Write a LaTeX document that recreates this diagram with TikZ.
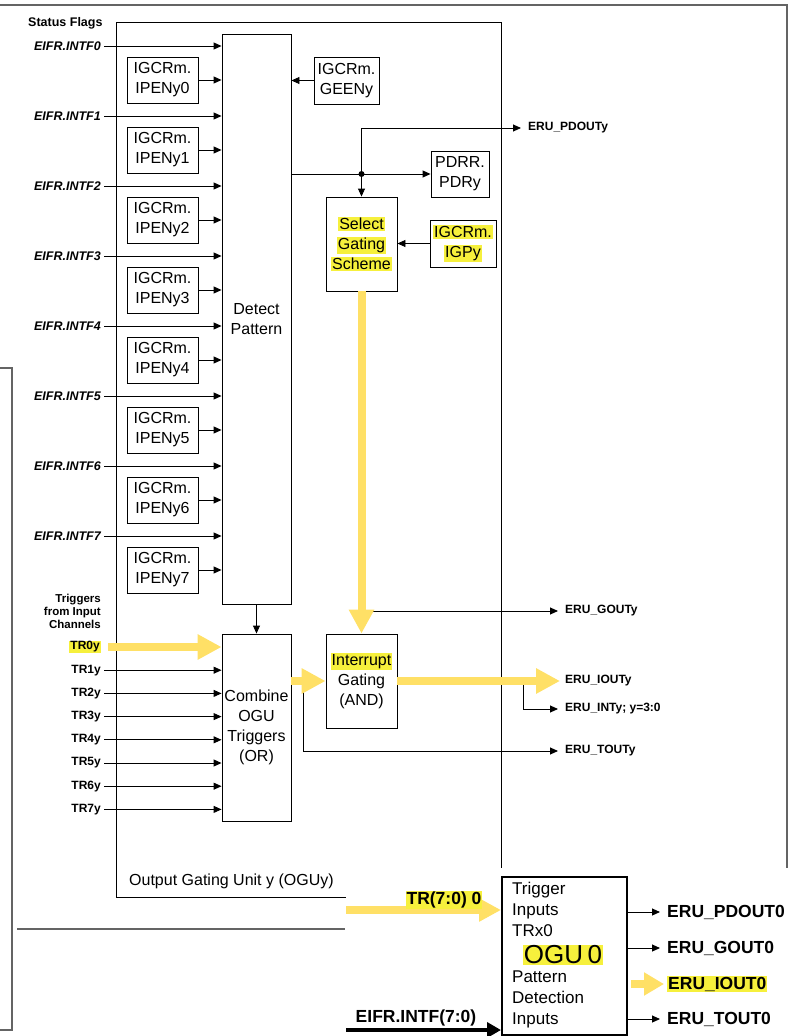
\documentclass[tikz,border=0pt]{standalone}
\usepackage{fontspec}
\setmainfont{Liberation Sans}
\usepackage{tikz}
\usetikzlibrary{shapes,arrows.meta,positioning,calc}
\definecolor{hly}{RGB}{246,240,60}
\definecolor{ayel}{RGB}{255,224,102}
\definecolor{framegray}{RGB}{100,100,100}
\newcommand{\hlt}[1]{{\setlength{\fboxsep}{1pt}\colorbox{hly}{#1}}}

\begin{document}
\begin{tikzpicture}[x=1pt, y=-1pt, >={Triangle[length=8pt,width=7pt]},
        every node/.style={inner sep=0pt},
        block/.style={rectangle, draw, line width=0.9pt, align=center, font=\fontsize{16}{20}\selectfont},
        flag/.style={anchor=east, inner xsep=3pt, font=\fontsize{12.5}{14}\selectfont\bfseries\itshape},
        trig/.style={anchor=east, inner xsep=3pt, font=\fontsize{12}{14}\selectfont\bfseries},
        outlbl/.style={anchor=west, inner xsep=7pt, font=\fontsize{12}{14}\selectfont\bfseries},
        bigout/.style={anchor=west, inner xsep=7pt, font=\fontsize{17.5}{20}\selectfont\bfseries},
        insettxt/.style={align=left, font=\fontsize{17}{20.8}\selectfont},
        sig/.style={->, line width=0.9pt},
        yarrow/.style={ayel, line width=8pt, -{Triangle[length=24pt,width=24pt]}},
        frameline/.style={framegray, line width=1.3pt}]
        \useasboundingbox (0,0) rectangle (811,1036);

        % surrounding frame
        \draw[frameline] (0,5) -- (787,5) -- (787,868);
        \draw[frameline] (0,368) -- (12,368) -- (12,1030) -- (0,1030);
        \draw[frameline] (17,929) -- (345,929);

        % output gating unit
        \node[draw, line width=0.9pt, minimum width=385pt, minimum height=875pt] (ogu) at (308.5,459.5) {};
        \node[anchor=base west, font=\fontsize{16}{18}\selectfont] (ogulbl) at (129,885) {Output Gating Unit y (OGUy)};
        \node[anchor=base west, font=\fontsize{12.5}{14}\selectfont\bfseries] (status) at (28,26) {Status Flags};

        \node[block, minimum width=69pt, minimum height=570pt] (detect) at (256.5,319) {Detect\\Pattern};
        \node[block, minimum width=69pt, minimum height=187pt] (combine) at (256.5,727.5) {Combine\\OGU\\Triggers\\(OR)};

        \foreach \k in {0,...,7} {
            \node[block, minimum width=71pt, minimum height=46pt] (ipen\k) at (162.5,{80+70*\k}) {IGCRm.\\IPENy\k};
            \node[flag] (intf\k) at (104,{46+70*\k}) {EIFR.INTF\k};
            \draw[sig] (intf\k.east) -- (intf\k.east -| detect.west);
            \draw[sig] (ipen\k.east) -- (ipen\k.east -| detect.west);
        }

        \node[anchor=east, align=right, font=\fontsize{11.5}{13}\selectfont\bfseries] (trigin) at (101,611) {Triggers\\from Input\\Channels};
        \node[trig] (tr0) at (104,647) {\hlt{TR0y}};
        \foreach \k in {1,...,7} {
            \node[trig] (tr\k) at (104,{647+23.2*\k}) {TR\k y};
            \draw[sig] (tr\k.east) -- (tr\k.east -| combine.west);
        }
        \draw[yarrow] ([xshift=4pt]tr0.east) -- (tr0.east -| combine.west);
        \draw[sig] (detect.south) -- (combine.north);

        \node[block, minimum width=65pt, minimum height=47pt] (geen) at (346.5,80.5) {IGCRm.\\GEENy};
        \node[block, minimum width=58pt, minimum height=46pt] (pdrr) at (460,174) {PDRR.\\PDRy};
        \node[block, minimum width=71pt, minimum height=94pt] (select) at (361.5,244) {\hlt{Select}\\\hlt{Gating}\\\hlt{Scheme}};
        \node[block, minimum width=66pt, minimum height=47pt] (igp) at (463,243.5) {\hlt{IGCRm.}\\\hlt{IGPy}};
        \node[block, minimum width=71pt, minimum height=94pt] (gating) at (361.5,681) {\hlt{Interrupt}\\Gating\\(AND)};

        \draw[sig] (geen.west) -- (geen.west -| detect.east);
        \coordinate (split) at (361.5,174);
        \draw[sig] (detect.east |- split) -- (pdrr.west);
        \fill (split) circle (3pt);
        \draw[sig] (split) -- (select.north);
        \node[outlbl] (pdout) at (521,128) {ERU\_PDOUTy};
        \draw[sig] (split) |- (pdout.west);
        \draw[sig] (igp.west) -- (select.east |- igp.west);

        % outputs of the unit
        \node[outlbl] (gout) at (558,611) {ERU\_GOUTy};
        \node[outlbl] (iout) at (558,681) {ERU\_IOUTy};
        \node[outlbl] (intlab) at (558,709) {ERU\_INTy; y=3:0};
        \node[outlbl] (tout) at (558,751) {ERU\_TOUTy};
        \draw[sig] ([xshift=4pt]select.south |- gout.west) -- (gout.west);
        \draw[yarrow] (select.south) -- (gating.north);
        \coordinate (tsplit) at (303,681);
        \draw[sig] (tsplit) |- (tout.west);
        \draw[yarrow] (combine.east |- gating.west) -- (gating.west);
        \coordinate (isplit) at (523,681);
        \draw[sig] (isplit) |- (intlab.west);
        \draw[yarrow] (gating.east) -- ([xshift=2pt]iout.west);

        % OGU0 overview
        \fill[white] (346,868) rectangle (811,1036);
        \node[draw, line width=2pt, minimum width=125pt, minimum height=158pt] (ogu0) at (564.5,956) {};
        \node[insettxt, anchor=north west] (trgin) at (512,882) {Trigger\\Inputs\\TRx0};
        \node[insettxt, anchor=north west] (patin) at (512,971) {Pattern\\Detection\\Inputs};
        \node[font=\fontsize{26}{28}\selectfont] (oguname) at (563,955) {\hlt{OGU\,0}};

        \coordinate (trbusin) at (346,910);
        \draw[yarrow, -{Triangle[length=22pt,width=22pt]}] (trbusin) -- (trbusin -| ogu0.west);
        \node[font=\fontsize{17.5}{19}\selectfont\bfseries] (trbus) at (444,900) {\hlt{TR(7:0) 0}};
        \coordinate (intfbusin) at (346,1030);
        \draw[line width=4pt, -{Triangle[length=14pt,width=15pt]}] (intfbusin) -- (intfbusin -| ogu0.west);
        \node[font=\fontsize{17.5}{19}\selectfont\bfseries] (intfbus) at (416,1018) {EIFR.INTF(7:0)};

        \node[bigout] (pdout0) at (660,912) {ERU\_PDOUT0};
        \node[bigout] (gout0) at (660,948) {ERU\_GOUT0};
        \node[bigout] (iout0) at (660,984) {\hlt{ERU\_IOUT0}};
        \node[bigout] (tout0) at (660,1019) {ERU\_TOUT0};
        \draw[sig] (ogu0.east |- pdout0.west) -- (pdout0.west);
        \draw[sig] (ogu0.east |- gout0.west) -- (gout0.west);
        \draw[sig] (ogu0.east |- tout0.west) -- (tout0.west);
        \draw[yarrow, -{Triangle[length=20pt,width=22pt]}] ([xshift=3pt]ogu0.east |- iout0.west) -- ([xshift=4pt]iout0.west);
    \end{tikzpicture}
\end{document}
